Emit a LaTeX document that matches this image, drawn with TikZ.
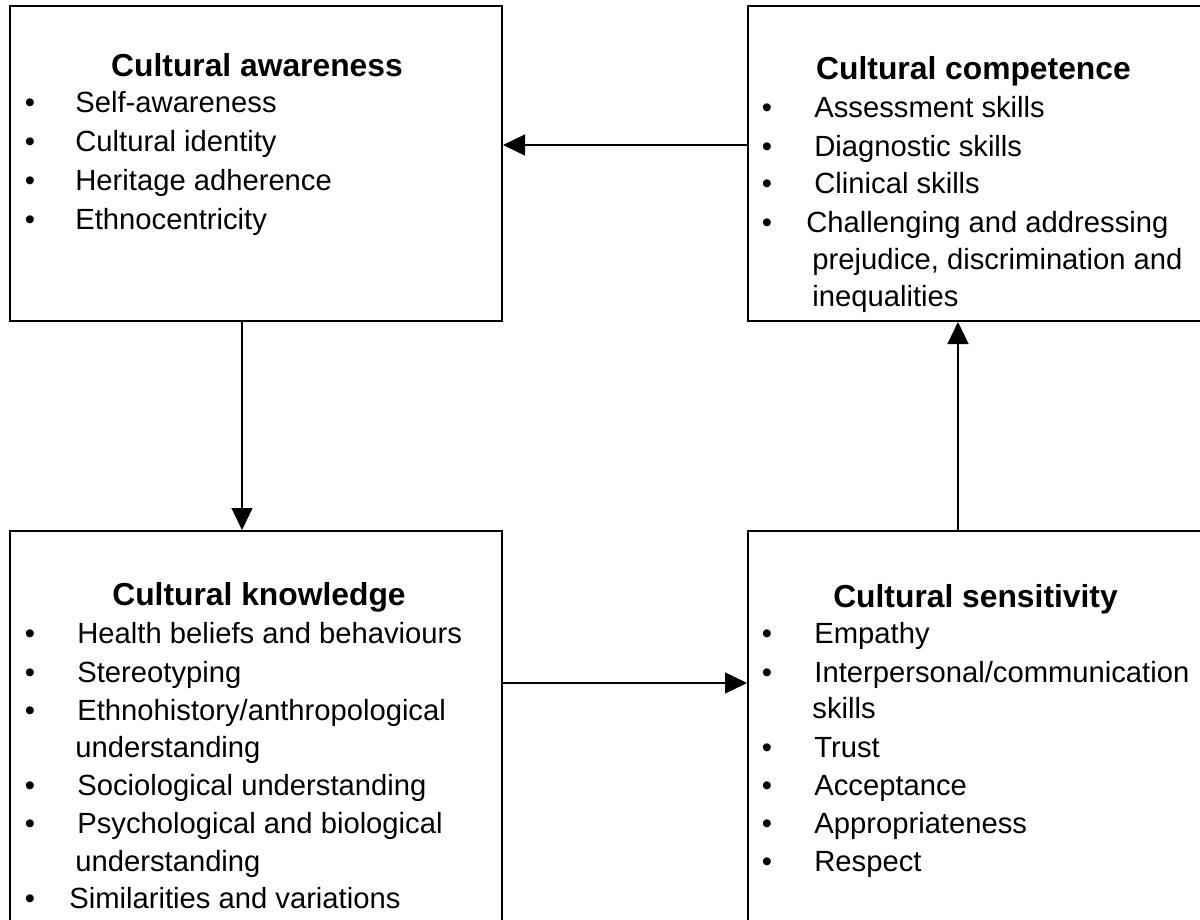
\documentclass[tikz,border=0pt]{standalone}
\usepackage{fontspec}
\setmainfont{Liberation Sans}
\usetikzlibrary{arrows.meta,fit}
\begin{document}
\begin{tikzpicture}[x=0.5pt,y=-0.5pt,
  box/.style={draw, line width=1pt, inner sep=0pt, rectangle},
  ttl/.style={anchor=base, inner sep=0pt, font=\fontsize{15.9}{19}\selectfont\bfseries},
  itm/.style={anchor=base west, inner sep=0pt, font=\fontsize{14.6}{17}\selectfont},
  bul/.style={anchor=base, inner sep=0pt, font=\fontsize{14.6}{17}\selectfont},
  conn/.style={line width=0.6pt, -{Triangle[length=11pt,width=10.5pt]}}]
\useasboundingbox (0,0) rectangle (1200,920);
\begin{scope}
  \clip (0,0) rectangle (1200,920);
  \node[box, fit={(10,6) (502,321)}] (ca) {};
  \node[box, fit={(748,6) (1204,321)}] (cc) {};
  \node[box, fit={(10,531) (502,960)}] (ck) {};
  \node[box, fit={(748,531) (1204,960)}] (cs) {};
\end{scope}

% Cultural awareness
\node[ttl] (ca-t) at (257,77) {Cultural awareness};
\node[bul] (ca-b1) at (30,113) {•};
\node[itm] (ca-i1) at (75,113) {Self-awareness};
\node[bul] (ca-b2) at (30,152) {•};
\node[itm] (ca-i2) at (75,152) {Cultural identity};
\node[bul] (ca-b3) at (30,191) {•};
\node[itm] (ca-i3) at (75,191) {Heritage adherence};
\node[bul] (ca-b4) at (30,229) {•};
\node[itm] (ca-i4) at (75,229) {Ethnocentricity};

% Cultural competence
\node[ttl] (cc-t) at (973.5,80) {Cultural competence};
\node[bul] (cc-b1) at (767,118) {•};
\node[itm] (cc-i1) at (814,118) {Assessment skills};
\node[bul] (cc-b2) at (767,156) {•};
\node[itm] (cc-i2) at (814,156) {Diagnostic skills};
\node[bul] (cc-b3) at (767,193) {•};
\node[itm] (cc-i3) at (814,193) {Clinical skills};
\node[bul] (cc-b4) at (767,232) {•};
\node[itm] (cc-i4) at (806,232) {Challenging and addressing};
\node[itm] (cc-i5) at (812,269) {prejudice, discrimination and};
\node[itm] (cc-i6) at (812,306) {inequalities};

% Cultural knowledge
\node[ttl] (ck-t) at (259,605) {Cultural knowledge};
\node[bul] (ck-b1) at (30,643) {•};
\node[itm] (ck-i1) at (77,643) {Health beliefs and behaviours};
\node[bul] (ck-b2) at (30,682) {•};
\node[itm] (ck-i2) at (77,682) {Stereotyping};
\node[bul] (ck-b3) at (30,720) {•};
\node[itm] (ck-i3) at (77,720) {Ethnohistory/anthropological};
\node[itm] (ck-i4) at (75,757) {understanding};
\node[bul] (ck-b5) at (30,795) {•};
\node[itm] (ck-i5) at (77,795) {Sociological understanding};
\node[bul] (ck-b6) at (30,833) {•};
\node[itm] (ck-i6) at (77,833) {Psychological and biological};
\node[itm] (ck-i7) at (75,871) {understanding};
\node[bul] (ck-b8) at (30,908) {•};
\node[itm] (ck-i8) at (69,908) {Similarities and variations};

% Cultural sensitivity
\node[ttl] (cs-t) at (975.5,607) {Cultural sensitivity};
\node[bul] (cs-b1) at (767,643) {•};
\node[itm] (cs-i1) at (814,643) {Empathy};
\node[bul] (cs-b2) at (767,682) {•};
\node[itm] (cs-i2) at (814,682) {Interpersonal/communication};
\node[itm] (cs-i3) at (812,718) {skills};
\node[bul] (cs-b4) at (767,757) {•};
\node[itm] (cs-i4) at (814,757) {Trust};
\node[bul] (cs-b5) at (767,795) {•};
\node[itm] (cs-i5) at (814,795) {Acceptance};
\node[bul] (cs-b6) at (767,833) {•};
\node[itm] (cs-i6) at (814,833) {Appropriateness};
\node[bul] (cs-b7) at (767,871) {•};
\node[itm] (cs-i7) at (814,871) {Respect};

% connectors
\coordinate (h1) at (0,145);
\coordinate (h2) at (0,683);
\coordinate (v1) at (242,0);
\coordinate (v2) at (958,0);
\draw[conn] (cc.west |- h1) -- (ca.east |- h1);
\draw[conn] (ca.south -| v1) -- (ck.north -| v1);
\draw[conn] (ck.east |- h2) -- (cs.west |- h2);
\draw[conn] (cs.north -| v2) -- (cc.south -| v2);
\end{tikzpicture}
\end{document}
